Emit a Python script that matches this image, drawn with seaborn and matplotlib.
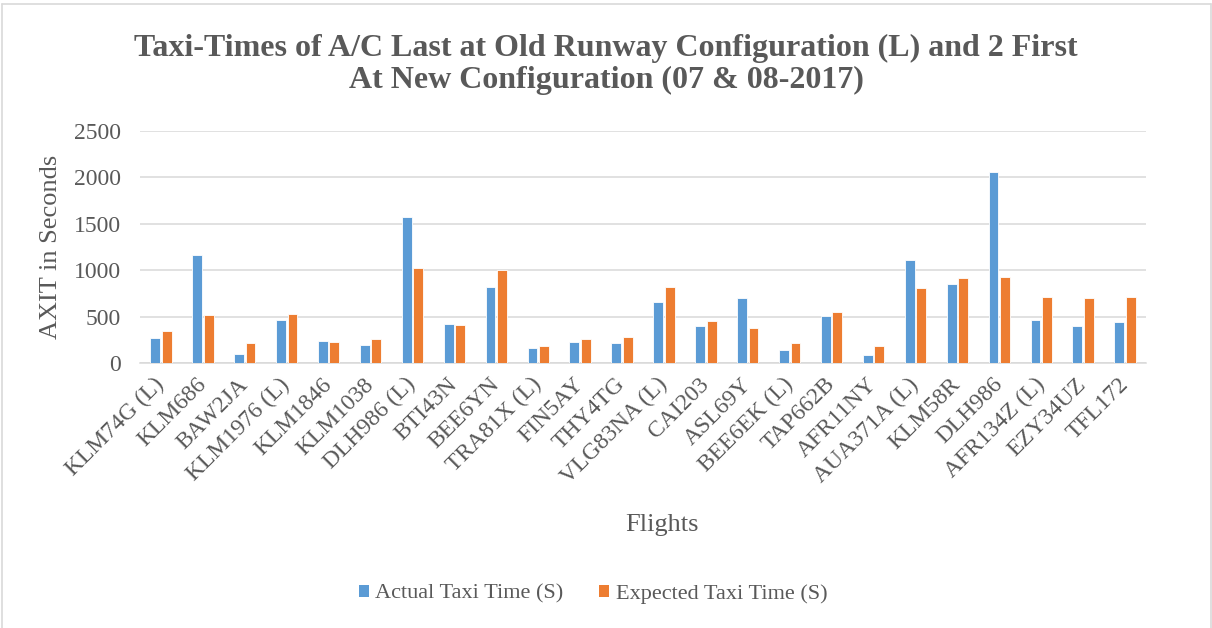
import matplotlib
matplotlib.use("Agg")
import matplotlib.pyplot as plt
from matplotlib.lines import Line2D
from matplotlib.patches import Patch
import seaborn as sns
import pandas as pd

flights = [
    "KLM74G (L)", "KLM686", "BAW2JA", "KLM1976 (L)", "KLM1846", "KLM1038",
    "DLH986 (L)", "BTI43N", "BEE6YN", "TRA81X (L)", "FIN5AY", "THY4TG",
    "VLG83NA (L)", "CAI203", "ASL69Y", "BEE6EK (L)", "TAP662B", "AFR11NY",
    "AUA371A (L)", "KLM58R", "DLH986", "AFR134Z (L)", "EZY34UZ", "TFL172",
]
actual = [
    269, 1164, 97, 465, 240, 200,
    1573, 419, 817, 161, 232, 222,
    659, 401, 705, 147, 509, 89,
    1110, 852, 2060, 466, 401, 444,
]
expected = [
    350, 519, 215, 527, 229, 261,
    1025, 412, 1003, 183, 258, 286,
    824, 455, 383, 215, 555, 186,
    806, 917, 928, 716, 699, 716,
]
series_names = ["Actual Taxi Time (S)", "Expected Taxi Time (S)"]
y_ticks = [0, 500, 1000, 1500, 2000, 2500]

BLUE = "#5B9BD5"
ORANGE = "#ED7D31"
GRID = "#D9D9D9"
TEXT = "#595959"

df = pd.DataFrame({
    "Flight": flights * 2,
    "Seconds": actual + expected,
    "Series": [series_names[0]] * len(flights) + [series_names[1]] * len(flights),
})

sns.set_theme(style="white")
plt.rcParams["font.family"] = ["Liberation Serif", "DejaVu Serif"]

fig = plt.figure(figsize=(12.12, 6.28), dpi=100)
ax = fig.add_axes([140 / 1212, 1 - 363.3 / 628, 1006 / 1212, 232.6 / 628])

sns.barplot(
    data=df, x="Flight", y="Seconds", hue="Series",
    order=flights, hue_order=series_names,
    palette=[BLUE, ORANGE], saturation=1, width=0.55, gap=0.15,
    edgecolor="white", linewidth=0.6, errorbar=None,
    legend=False, ax=ax, zorder=3,
)

ax.set_ylim(0, 2500)
ax.set_xlim(-0.5, len(flights) - 0.5)
ax.set_yticks(y_ticks)
ax.set_yticklabels([str(v) for v in y_ticks])
ax.yaxis.grid(True, color=GRID, linewidth=1.1, zorder=0)
ax.xaxis.grid(False)
ax.set_axisbelow(True)
for side in ("top", "right", "left"):
    ax.spines[side].set_visible(False)
ax.spines["bottom"].set_color(GRID)
ax.spines["bottom"].set_linewidth(1.1)
ax.tick_params(axis="both", length=0, colors=TEXT, labelsize=17)
ax.tick_params(axis="y", pad=14)
ax.tick_params(axis="x", pad=13)
for lbl in ax.get_xticklabels():
    lbl.set_rotation(45)
    lbl.set_ha("right")
    lbl.set_va("center")
    lbl.set_rotation_mode("anchor")

ax.set_xlabel("")
ax.set_ylabel("AXIT in Seconds", fontsize=19, color=TEXT)
ax.yaxis.set_label_coords(-0.078, 0.5)

fig.text(662 / 1212, 1 - 531 / 628, "Flights", ha="center", va="baseline",
         fontsize=19, color=TEXT)

fig.text(0.5, 1 - 64.5 / 628,
         "Taxi-Times of A/C Last at Old Runway Configuration (L) and 2 First\n"
         "At New Configuration (07 & 08-2017)",
         ha="center", va="center", fontsize=23, fontweight="bold",
         color=TEXT, linespacing=1.17)

handles = [Patch(facecolor=BLUE, edgecolor="none"),
           Patch(facecolor=ORANGE, edgecolor="none")]
fig.legend(handles, series_names, loc="center",
           bbox_to_anchor=(593 / 1212, 1 - 594 / 628), ncol=2, frameon=False,
           fontsize=16, handlelength=0.45, handleheight=0.45,
           handletextpad=0.3, columnspacing=1.6, labelcolor=TEXT)

# light frame around the chart area
for (x0, y0, x1, y1) in [(2.5 / 1212, 0, 2.5 / 1212, 1 - 4 / 628),
                         (2.5 / 1212, 1 - 4 / 628, 1210.5 / 1212, 1 - 4 / 628),
                         (1210.5 / 1212, 1 - 4 / 628, 1210.5 / 1212, 0)]:
    fig.add_artist(Line2D([x0, x1], [y0, y1], transform=fig.transFigure,
                          color=GRID, linewidth=1.2))

fig.savefig("out.png", dpi=100, facecolor="white")
